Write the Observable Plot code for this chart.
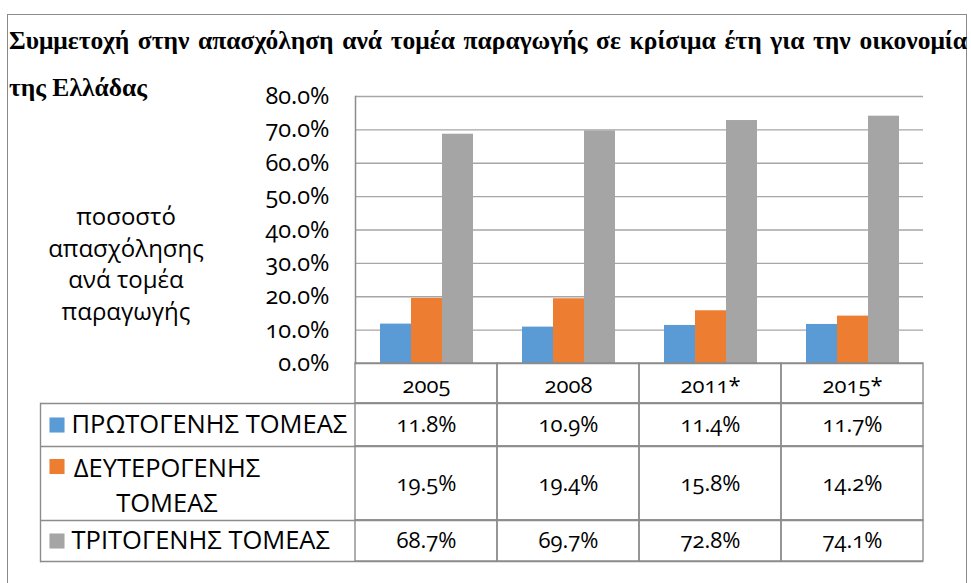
<!DOCTYPE html>
<html>
<head>
<meta charset="utf-8">
<script src="https://cdn.jsdelivr.net/npm/d3@7"></script>
<script src="https://cdn.jsdelivr.net/npm/@observablehq/plot@0.6"></script>
<style>
  html, body { margin: 0; padding: 0; background: #fff; }
  #wrap { position: relative; width: 971px; height: 583px; overflow: hidden; background: #fff; }
  #frame { position: absolute; left: 7px; top: 14px; width: 960px; height: 620px; border: 1.5px solid #8a8a8a; box-sizing: border-box; }
  .title { position: absolute; font-family: "Liberation Serif", "Times New Roman", serif; font-weight: bold; font-size: 25.5px; line-height: 30px; color: #000; white-space: nowrap; }
  #t1 { left: 9px; top: 26px; width: 958px; text-align: justify; text-align-last: justify; white-space: normal; }
  #t2 { left: 9px; top: 73px; }
  #ytitle { position: absolute; left: 26px; width: 200px; top: 200px; text-align: center; font-family: "Open Sans", sans-serif; font-size: 24px; line-height: 31.5px; color: #000; }
  #chart, #table { position: absolute; left: 0; }
  #chart { top: 0; }
  #table { top: 363px; }
  #chart text, #table text { font-variant-numeric: oldstyle-nums !important; }
</style>
</head>
<body>
<div id="wrap">
  <div id="frame"></div>
  <div class="title" id="t1">Συμμετοχή στην απασχόληση ανά τομέα παραγωγής σε κρίσιμα έτη για την οικονομία</div>
  <div class="title" id="t2">της Ελλάδας</div>
  <div id="ytitle">ποσοστό<br>απασχόλησης<br>ανά τομέα<br>παραγωγής</div>
  <div id="chart"></div>
  <div id="table"></div>
</div>
<script>
// ---- data ----
const years = ["2005", "2008", "2011*", "2015*"];
const sectors = ["ΠΡΩΤΟΓΕΝΗΣ ΤΟΜΕΑΣ", "ΔΕΥΤΕΡΟΓΕΝΗΣ ΤΟΜΕΑΣ", "ΤΡΙΤΟΓΕΝΗΣ ΤΟΜΕΑΣ"];
const sectorLabels = ["ΠΡΩΤΟΓΕΝΗΣ ΤΟΜΕΑΣ", "ΔΕΥΤΕΡΟΓΕΝΗΣ\nΤΟΜΕΑΣ", "ΤΡΙΤΟΓΕΝΗΣ ΤΟΜΕΑΣ"];
const primary = [0.118, 0.109, 0.114, 0.117];
const secondary = [0.195, 0.194, 0.158, 0.142];
const tertiary = [0.687, 0.697, 0.728, 0.741];
const colors = ["#5b9bd5", "#ed7d31", "#a5a5a5"];
const yTicks = [0, 0.1, 0.2, 0.3, 0.4, 0.5, 0.6, 0.7, 0.8];

// ---- build tables for Plot ----
const series = [primary, secondary, tertiary];
const bars = [];
years.forEach((yr, i) => sectors.forEach((s, j) => bars.push({year: yr, sector: s, row: j, value: series[j][i]})));

const FONT = "'Open Sans', 'Noto Sans', sans-serif";
const fmt = d3.format(".1%");
const GRID = "#a6a6a6";
const LINE = "#8c8c8c";

const chart = Plot.plot({
  width: 971,
  height: 365,
  marginTop: 96,
  marginBottom: 2,
  marginLeft: 354,
  marginRight: 48,
  style: {fontFamily: FONT, fontSize: "22px", color: "#000", background: "none", overflow: "visible"},
  fx: {domain: years, padding: 0, axis: null, label: null},
  x: {domain: sectors, paddingInner: 0, paddingOuter: 0.75, axis: null},
  y: {domain: [0, 0.8], axis: null},
  color: {domain: sectors, range: colors},
  marks: [
    Plot.ruleY(yTicks.slice(1), {stroke: GRID, strokeWidth: 1.4}),
    Plot.barY(bars, {fx: "year", x: "sector", y: "value", fill: "sector"}),
    Plot.ruleY([0], {stroke: LINE, strokeWidth: 1.5}),
    Plot.frame({anchor: "left", facetAnchor: "left", stroke: LINE, strokeWidth: 1.5}),
    Plot.axisY({ticks: yTicks, tickFormat: fmt, tickSize: 0, tickPadding: 26, fontSize: 23.5, label: null, facetAnchor: "left"})
  ]
});
document.getElementById("chart").appendChild(chart);

// ---- data table (drawn with Plot) ----
const rowEdges = [0, 40, 83, 157, 198];   // layout of table rows (px)
const rowMid = i => (rowEdges[i] + rowEdges[i + 1]) / 2;
const cells = [];
years.forEach(yr => { for (let r = 0; r < 4; r++) cells.push({year: yr, y1: rowEdges[r], y2: rowEdges[r + 1]}); });

const table = Plot.plot({
  width: 971,
  height: 220,
  marginTop: 40,
  marginBottom: 22,
  marginLeft: 40,
  marginRight: 48,
  style: {fontFamily: FONT, fontSize: "22px", color: "#000", background: "none", overflow: "visible"},
  x: {type: "band", domain: years, range: [354, 923], padding: 0, axis: null},
  y: {domain: [0, 220], range: [0, 220], axis: null},
  marks: [
    Plot.ruleY(rowEdges.slice(1), {stroke: LINE, strokeWidth: 1.4}),
    Plot.frame({anchor: "left", stroke: LINE, strokeWidth: 1.4}),
    Plot.barY(cells, {x: "year", y1: "y1", y2: "y2", fill: "none", stroke: LINE, strokeWidth: 1.4}),
    Plot.text(years, {x: d => d, y: rowMid(0) + 2, text: d => d, fontSize: 22}),
    Plot.text(bars, {x: "year", y: d => rowMid(d.row + 1), text: d => fmt(d.value), fontSize: 22}),
    Plot.dot(sectors, {frameAnchor: "left", dx: 16.5, y: (d, i) => i === 1 ? rowMid(2) - 17 : rowMid(i + 1), symbol: "square", r: 8.5, fill: colors, stroke: null}),
    Plot.text(sectorLabels, {filter: (d, i) => i !== 1, frameAnchor: "left", dx: 31, y: (d, i) => rowMid(i + 1), text: d => d, textAnchor: "start", fontSize: 25.5}),
    Plot.text([sectorLabels[1]], {frameAnchor: "left", dx: 126.5, y: rowMid(2), text: d => d, textAnchor: "middle", lineHeight: 1.34, fontSize: 25.5})
  ]
});
document.getElementById("table").appendChild(table);
</script>
</body>
</html>
